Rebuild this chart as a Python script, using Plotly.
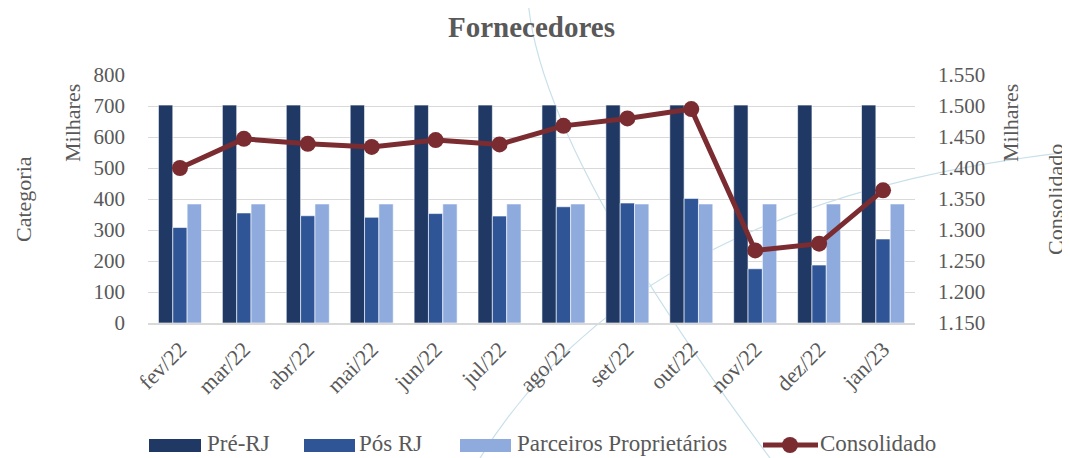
import plotly.graph_objects as go

categorias = ["fev/22", "mar/22", "abr/22", "mai/22", "jun/22", "jul/22",
              "ago/22", "set/22", "out/22", "nov/22", "dez/22", "jan/23"]
pre_rj = [703, 703, 703, 703, 703, 703, 703, 703, 703, 703, 703, 703]
pos_rj = [308, 355, 346, 341, 353, 345, 375, 387, 402, 175, 187, 271]
parceiros = [384, 384, 384, 384, 384, 384, 384, 384, 384, 384, 384, 384]
consolidado = [1400, 1447, 1439, 1434, 1445, 1438, 1468, 1480, 1495, 1267, 1278, 1364]

FONT = "Liberation Serif"
GRAY = "#595959"
C_PRE, C_POS, C_PAR, C_CON = "#203864", "#2f5597", "#8faadc", "#7b2c30"

OFF = 8  # page body margin
W, H = 1070 - OFF, 458 - OFF
# plot area in screen pixels
L, R, T, B = 148, 915, 75, 323


def px(x):
    return (x - L) / (R - L)


def py(y):
    return (B - y) / (B - T)


fig = go.Figure()
fig.add_bar(x=categorias, y=pre_rj, name="Pré-RJ", marker_color=C_PRE,
            marker_line=dict(color="#ffffff", width=0.6))
fig.add_bar(x=categorias, y=pos_rj, name="Pós RJ", marker_color=C_POS,
            marker_line=dict(color="#ffffff", width=0.6))
fig.add_bar(x=categorias, y=parceiros, name="Parceiros Proprietários", marker_color=C_PAR,
            marker_line=dict(color="#ffffff", width=0.6))
fig.add_scatter(x=categorias, y=consolidado, name="Consolidado", yaxis="y2",
                mode="lines+markers", line=dict(color=C_CON, width=5),
                marker=dict(color=C_CON, size=16))

shapes = []
# decorative background curves
shapes.append(dict(type="path", xref="paper", yref="paper", layer="below",
                   path=f"M {px(528)} {py(0)} Q {px(540)} {py(150)} {px(770)} {py(458)}",
                   line=dict(color="#c8e0ea", width=1.2)))
shapes.append(dict(type="path", xref="paper", yref="paper", layer="below",
                   path=f"M {px(480)} {py(458)} Q {px(640)} {py(200)} {px(1070)} {py(152)}",
                   line=dict(color="#c8e0ea", width=1.2)))

annotations = [
    dict(text="Milhares", x=px(72), y=py(123), textangle=-90, font=dict(size=22)),
    dict(text="Categoria", x=px(23), y=py(199), textangle=-90, font=dict(size=22)),
    dict(text="Milhares", x=px(1010), y=py(123), textangle=-90, font=dict(size=22)),
    dict(text="Consolidado", x=px(1055), y=py(200), textangle=-90, font=dict(size=22)),
]

# custom legend (wide swatches like the original)
legend_items = [("Pré-RJ", C_PRE, 149, 201, 205),
                ("Pós RJ", C_POS, 304, 355, 357),
                ("Parceiros Proprietários", C_PAR, 460, 511, 515)]
for name, col, x0, x1, tx in legend_items:
    shapes.append(dict(type="rect", xref="paper", yref="paper",
                       x0=px(x0), x1=px(x1), y0=py(452), y1=py(439),
                       fillcolor=col, line=dict(width=0)))
    annotations.append(dict(text=name, x=px(tx), y=py(443), xanchor="left",
                            font=dict(size=23)))
shapes.append(dict(type="line", xref="paper", yref="paper",
                   x0=px(763), x1=px(818), y0=py(445), y1=py(445),
                   line=dict(color=C_CON, width=5)))
shapes.append(dict(type="circle", xref="paper", yref="paper",
                   x0=px(782), x1=px(798), y0=py(437), y1=py(453),
                   fillcolor=C_CON, line=dict(width=0)))
annotations.append(dict(text="Consolidado", x=px(818), y=py(443), xanchor="left",
                        font=dict(size=23)))

for a in annotations:
    a.setdefault("xref", "paper")
    a.setdefault("yref", "paper")
    a.setdefault("showarrow", False)
    a.setdefault("xanchor", "center")
    a.setdefault("yanchor", "middle")
    a["font"].setdefault("color", GRAY)
    a["font"].setdefault("family", FONT)

fig.update_layout(
    width=W, height=H,
    margin=dict(l=L - OFF, r=W - (R - OFF), t=T - OFF, b=H - (B - OFF), autoexpand=False),
    paper_bgcolor="white", plot_bgcolor="rgba(0,0,0,0)",
    separators=",.",
    showlegend=False,
    font=dict(family=FONT, color=GRAY, size=21),
    title=dict(text="<b>Fornecedores</b>", x=0.5, xanchor="center", xref="paper",
               y=1 - (27 - OFF) / H, yanchor="middle",
               font=dict(size=29, color=GRAY, family=FONT)),
    barmode="group", bargap=0.327, bargroupgap=0,
    xaxis=dict(tickangle=-45, showgrid=False, showline=True, linecolor="#d9d9d9",
               linewidth=1.5, automargin=False, ticklabelstandoff=3,
               range=[-0.5, len(categorias) - 0.5],
               tickfont=dict(size=22, color=GRAY)),
    yaxis=dict(range=[0, 800], dtick=100, showgrid=True, gridcolor="#d9d9d9",
               gridwidth=1.3, zeroline=False, ticklabelstandoff=22, automargin=False,
               tickfont=dict(size=21, color=GRAY)),
    yaxis2=dict(range=[1150, 1550], dtick=50, overlaying="y", side="right",
                showgrid=False, zeroline=False, tickformat=",d", ticklabelstandoff=22,
                automargin=False, tickfont=dict(size=21, color=GRAY)),
    shapes=shapes,
    annotations=annotations,
)

fig.write_html("out.html")
